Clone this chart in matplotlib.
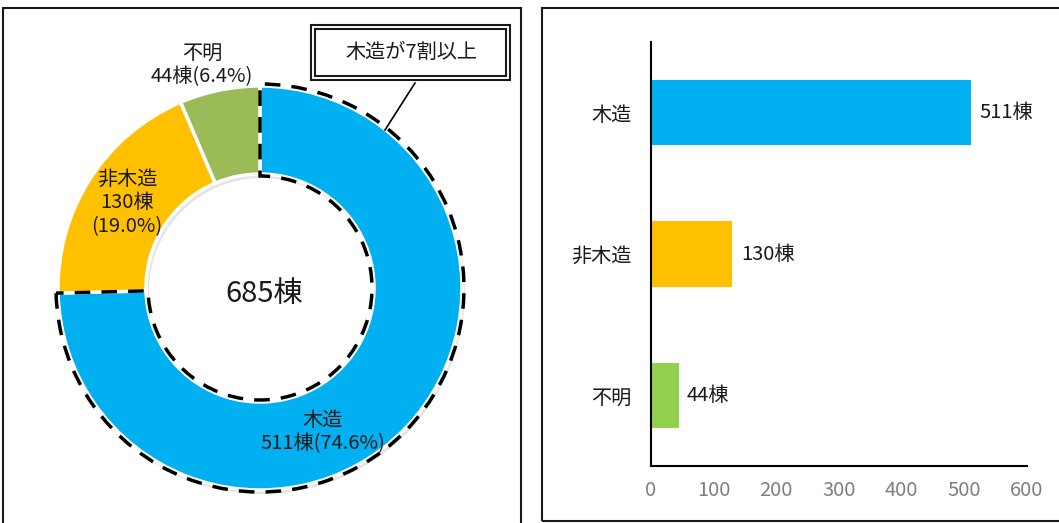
import matplotlib
matplotlib.use("Agg")
import matplotlib.pyplot as plt
from matplotlib.patches import Rectangle, Wedge

plt.rcParams["font.family"] = ["Noto Sans CJK JP", "DejaVu Sans"]

# data
categories = ["木造", "非木造", "不明"]
counts = [511, 130, 44]
pie_colors = ["#00B0F0", "#FFC000", "#9BBB59"]
bar_colors = ["#00B0F0", "#FFC000", "#92D050"]
x_ticks = [0, 100, 200, 300, 400, 500, 600]
callout = "木造が7割以上"
unit = "棟"

W, H = 1059, 523
TXT = "#1a1a1a"
FS = 14.5

total = sum(counts)
pct = [c / total * 100 for c in counts]

fig = plt.figure(figsize=(W / 100, H / 100), dpi=100)


def fy(y):
    # image y (from top) -> figure fraction
    return 1 - y / H


# panel frames
fig.add_artist(Rectangle((3 / W, fy(540)), (521 - 3) / W, (540 - 8) / H,
                         transform=fig.transFigure, fill=False, ec=TXT, lw=1.5))
fig.add_artist(Rectangle((542 / W, fy(521)), (1080 - 542) / W, (521 - 8) / H,
                         transform=fig.transFigure, fill=False, ec=TXT, lw=1.5))

# ---- donut ----
ax1 = fig.add_axes([0, 0, 530 / W, 1])
cx, cy, r, w = 260, H - 288, 202, 88

# soft shadow
ax1.add_patch(Wedge((cx + 2, cy - 3), r + 1, 0, 360, width=w + 2,
                    color="black", alpha=0.10, lw=0))

wedges, _ = ax1.pie(counts, colors=pie_colors, startangle=90, counterclock=False,
                    radius=r, center=(cx, cy),
                    wedgeprops=dict(width=w, edgecolor="white", linewidth=2.5))
ax1.set_xlim(0, 530)
ax1.set_ylim(0, H)
ax1.axis("off")

# dashed outline around 木造
wd = wedges[0]
ax1.add_patch(Wedge((cx, cy), r + 2, wd.theta1, wd.theta2, width=w + 4,
                    fill=False, ec="black", lw=2.5, ls=(0, (4.5, 3.2))))

ax1.text(264, H - 294, f"{total}{unit}", ha="center", va="center",
         fontsize=21, color=TXT)
ax1.text(202, H - 65, f"{categories[2]}\n{counts[2]}{unit}({pct[2]:.1f}%)",
         ha="center", va="center", fontsize=FS, color=TXT, linespacing=1.15)
ax1.text(127, H - 203, f"{categories[1]}\n{counts[1]}{unit}\n({pct[1]:.1f}%)",
         ha="center", va="center", fontsize=FS, color=TXT, linespacing=1.15)
ax1.text(323, H - 432, f"{categories[0]}\n{counts[0]}{unit}({pct[0]:.1f}%)",
         ha="center", va="center", fontsize=FS, color=TXT, linespacing=1.15)

# callout box with double border
ax1.add_patch(Rectangle((311, H - 80), 199, 55, fill=False, ec=TXT, lw=1.5))
ax1.add_patch(Rectangle((315, H - 76), 191, 47, fill=False, ec=TXT, lw=1.5))
ax1.text(411, H - 52, callout, ha="center", va="center", fontsize=FS, color=TXT)
ax1.plot([415, 385], [H - 83, H - 130], color="black", lw=1.2)

# ---- bars ----
ax2 = fig.add_axes([651 / W, fy(466), (1027 - 651) / W, (466 - 42) / H])
ypos = list(range(len(categories)))
bars = ax2.barh(ypos, counts, height=0.46, color=bar_colors)
ax2.bar_label(bars, labels=[f"{c}{unit}" for c in counts], padding=6,
              fontsize=FS, color=TXT)
ax2.set_ylim(len(categories) - 0.5, -0.5)
ax2.set_xlim(0, 600)
ax2.set_xticks(x_ticks)
ax2.set_yticks(ypos, categories)
ax2.tick_params(axis="both", length=0, labelsize=FS)
ax2.tick_params(axis="x", colors="#7f7f7f", pad=10)
ax2.tick_params(axis="y", colors=TXT, pad=14)
for s in ["top", "right"]:
    ax2.spines[s].set_visible(False)
for s in ["left", "bottom"]:
    ax2.spines[s].set_color("black")
    ax2.spines[s].set_linewidth(1.5)

fig.savefig("out.png", dpi=100)
